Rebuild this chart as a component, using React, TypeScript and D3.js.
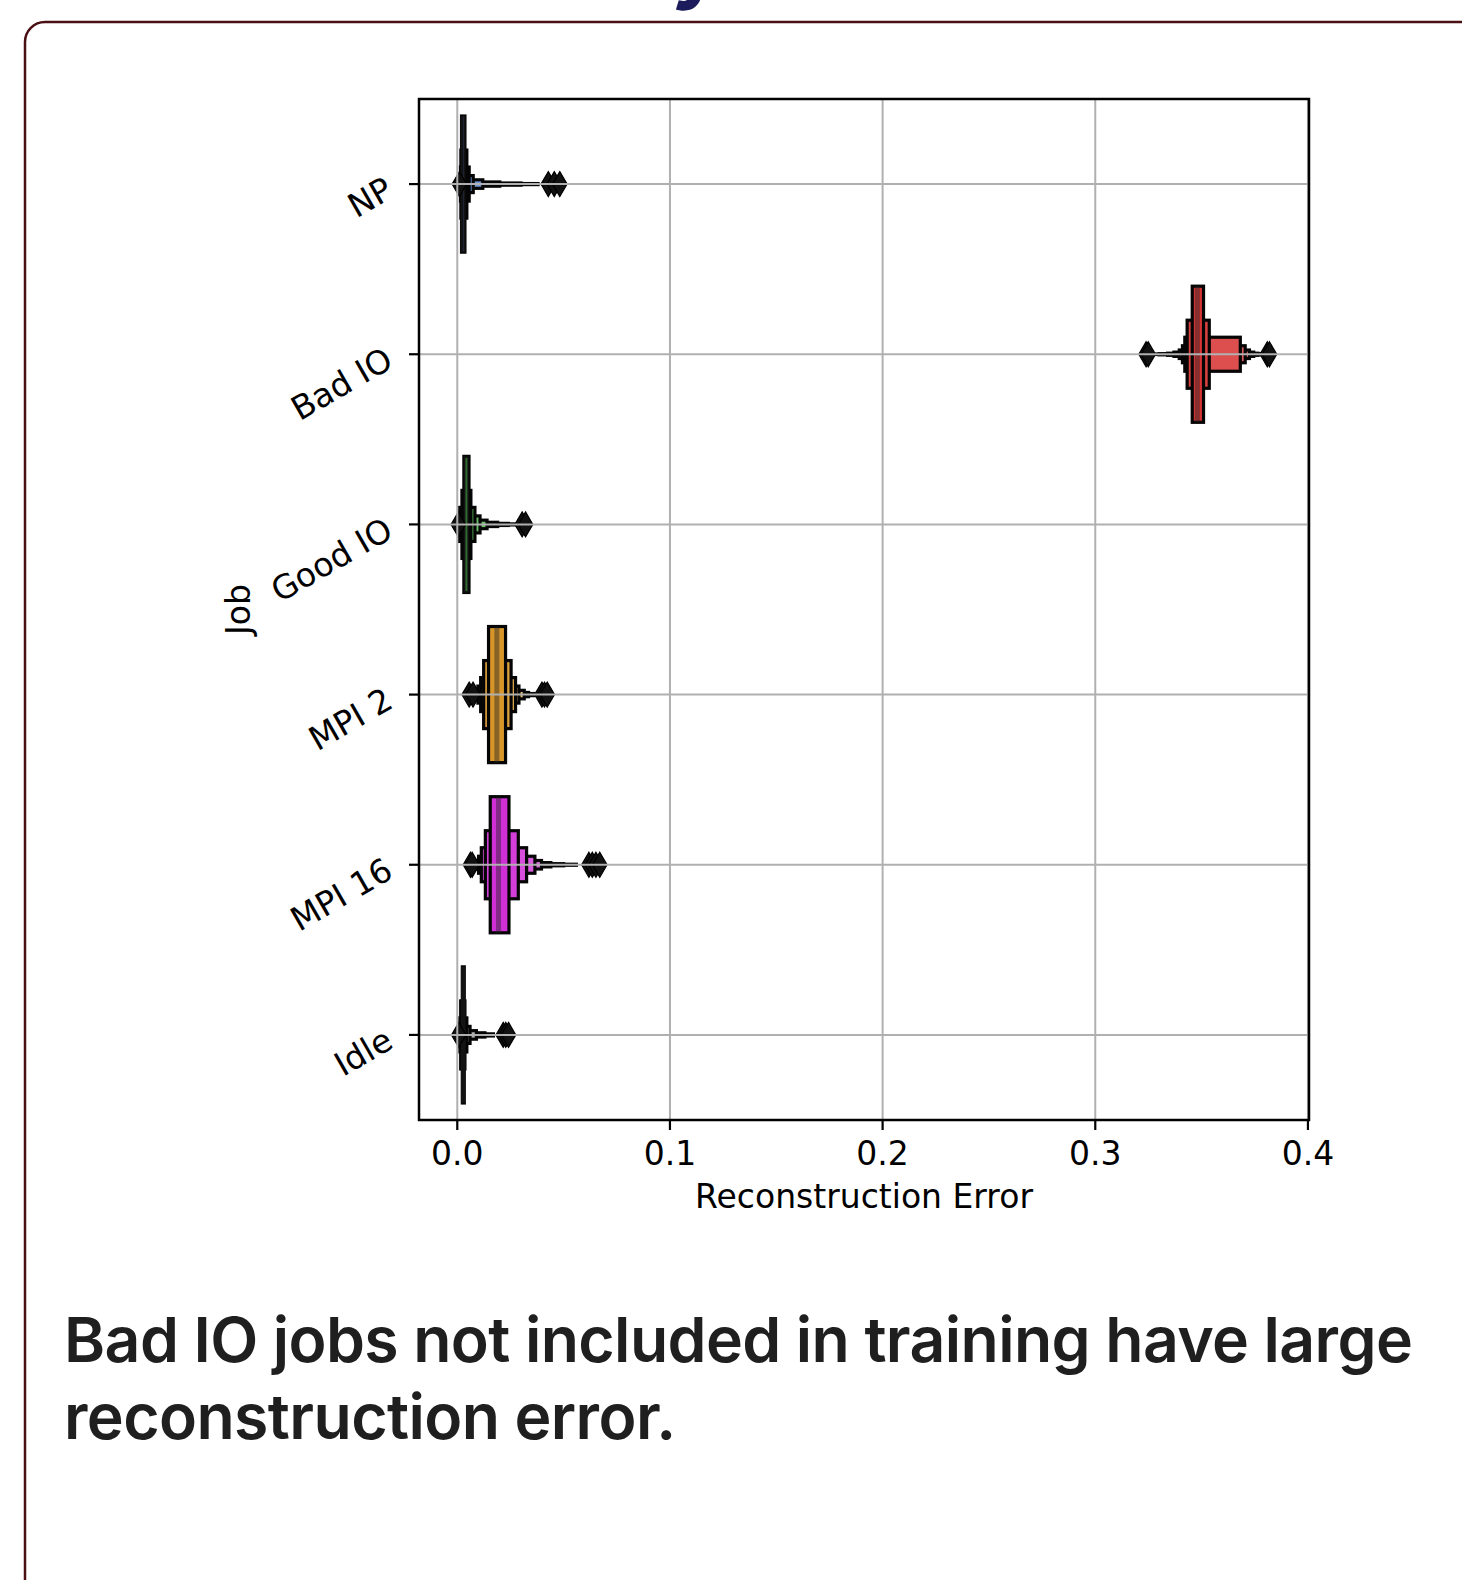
import React from "react";
import * as d3 from "d3";

// ---------- data ----------
const categories = ["NP", "Bad IO", "Good IO", "MPI 2", "MPI 16", "Idle"];
const baseColors = ["#3b6fcc", "#d83535", "#3aa63a", "#d8962a", "#d02fd6", "#8a8a8a"];
const medians = [0.0027, 0.348, 0.0042, 0.0186, 0.0194, 0.0028];

// letter-value boxes, innermost first: [low, high]
const npLevels = [[0.002, 0.0036], [0.0017, 0.0045], [0.0015, 0.0056], [0.0014, 0.0075], [0.0013, 0.012], [0.0013, 0.02], [0.0012, 0.03], [0.0012, 0.038]];
const badIoLevels = [[0.3456, 0.3509], [0.3432, 0.3536], [0.3421, 0.3682], [0.341, 0.3705], [0.3395, 0.3725], [0.337, 0.3745], [0.334, 0.3765], [0.33, 0.378], [0.327, 0.379]];
const goodIoLevels = [[0.0031, 0.0055], [0.0022, 0.0064], [0.0011, 0.0083], [0.0009, 0.0107], [0.0008, 0.014], [0.0007, 0.019], [0.0007, 0.024], [0.0007, 0.028]];
const mpi2Levels = [[0.0147, 0.0227], [0.0124, 0.0253], [0.011, 0.0274], [0.0097, 0.029], [0.0088, 0.0315], [0.0082, 0.0335], [0.008, 0.036]];
const mpi16Levels = [[0.0155, 0.0243], [0.0132, 0.0287], [0.0113, 0.0326], [0.01, 0.0365], [0.009, 0.0396], [0.0084, 0.044], [0.008, 0.05], [0.0078, 0.056]];
const idleLevels = [[0.0024, 0.0033], [0.0016, 0.0036], [0.0012, 0.0045], [0.0011, 0.006], [0.001, 0.009], [0.001, 0.013], [0.0009, 0.017]];

const npOutliers = [0.001, 0.0428, 0.0456, 0.0482];
const badIoOutliers = [0.3239, 0.3249, 0.3809, 0.3819];
const goodIoOutliers = [0.0005, 0.0305, 0.0321];
const mpi2Outliers = [0.0056, 0.0074, 0.0398, 0.041, 0.0423];
const mpi16Outliers = [0.0062, 0.007, 0.0619, 0.0635, 0.0652, 0.067];
const idleOutliers = [0.0007, 0.0216, 0.0228, 0.0241];

const xTicks = [0, 0.1, 0.2, 0.3, 0.4];
const xDomain = [-0.018, 0.4005];

const xLabel = "Reconstruction Error";
const yLabel = "Job";
const captionLines = ["Bad IO jobs not included in training have large", "reconstruction error."];

const levelsByCat = [npLevels, badIoLevels, goodIoLevels, mpi2Levels, mpi16Levels, idleLevels];
const outliersByCat = [npOutliers, badIoOutliers, goodIoOutliers, mpi2Outliers, mpi16Outliers, idleOutliers];

// ---------- component ----------
export default function App() {
  const W = 1462;
  const H = 1580;
  const left = 419, right = 1309, top = 99, bottom = 1120;
  const x = d3.scaleLinear().domain(xDomain).range([left, right]);
  const y = d3.scaleBand<string>().domain(categories).range([top, bottom]);
  const bw = y.bandwidth();
  const maxH = bw * 0.8;
  const font = "DejaVu Sans, Verdana, sans-serif";
  const fs = 33;
  const fmt = d3.format(".1f");

  const diamond = (cx: number, cy: number) => {
    const hw = 7.3, hh = 12.5;
    const p = d3.path();
    p.moveTo(cx, cy - hh);
    p.lineTo(cx + hw, cy);
    p.lineTo(cx, cy + hh);
    p.lineTo(cx - hw, cy);
    p.closePath();
    return p.toString();
  };

  return (
    <svg
      width={W}
      height={H}
      style={{ position: "absolute", left: 0, top: 0, background: "#fff" }}
      xmlns="http://www.w3.org/2000/svg"
    >
      <rect x={0} y={0} width={W} height={H} fill="#fff" />
      {/* fragment of a title above the card (cut off in the reference too) */}
      <text x={671} y={-7} fontFamily="Inter, sans-serif" fontWeight={700} fontSize={84} fill="#1c1c5c">y</text>
      {/* card */}
      <rect x={25} y={22} width={1520} height={1700} rx={20} ry={20} fill="#fff" stroke="#4a1014" strokeWidth={2.5} />

      {/* boxen plots */}
      {categories.map((c, ci) => {
        const cy = (y(c) as number) + bw / 2;
        const levels = levelsByCat[ci];
        const n = levels.length;
        const base = baseColors[ci];
        const boxes = levels
          .map((lv, i) => {
            const h = maxH * Math.pow(0.5, i);
            const t = n > 1 ? (0.85 * i) / (n - 1) : 0;
            const fill = d3.interpolateRgb(base, "#ffffff")(t * 0.6);
            return (
              <rect
                key={i}
                x={x(lv[0])}
                y={cy - h / 2}
                width={x(lv[1]) - x(lv[0])}
                height={h}
                fill={fill}
                stroke="#050505"
                strokeWidth={3.2}
              />
            );
          })
          .reverse();
        const mx = x(medians[ci]);
        return (
          <g key={c}>
            {boxes}
            <line x1={mx} x2={mx} y1={cy - maxH / 2} y2={cy + maxH / 2} stroke="#262626" strokeOpacity={0.45} strokeWidth={5} />
            {outliersByCat[ci].map((v, k) => (
              <path key={k} d={diamond(x(v), cy)} fill="#111" stroke="#000" strokeWidth={1.2} />
            ))}
          </g>
        );
      })}

      {/* grid (drawn above the marks) */}
      {xTicks.map((t) => (
        <line key={"gx" + t} x1={x(t)} x2={x(t)} y1={top} y2={bottom} stroke="#b0b0b0" strokeWidth={2} />
      ))}
      {categories.map((c) => {
        const cy = (y(c) as number) + bw / 2;
        return <line key={"gy" + c} x1={left} x2={right} y1={cy} y2={cy} stroke="#b0b0b0" strokeWidth={2} />;
      })}

      {/* spines */}
      <rect x={left} y={top} width={right - left} height={bottom - top} fill="none" stroke="#000" strokeWidth={2.5} />

      {/* x ticks */}
      {xTicks.map((t) => (
        <g key={"xt" + t}>
          <line x1={x(t)} x2={x(t)} y1={bottom} y2={bottom + 10} stroke="#000" strokeWidth={2.2} />
          <text x={x(t)} y={1165} textAnchor="middle" fontFamily={font} fontSize={fs} fill="#000">
            {fmt(t)}
          </text>
        </g>
      ))}
      <text x={(left + right) / 2} y={1208} textAnchor="middle" fontFamily={font} fontSize={fs} fill="#000">
        {xLabel}
      </text>

      {/* y ticks */}
      {categories.map((c) => {
        const cy = (y(c) as number) + bw / 2;
        return (
          <g key={"yt" + c}>
            <line x1={left - 10} x2={left} y1={cy} y2={cy} stroke="#000" strokeWidth={2.2} />
            <text
              transform={`translate(${395},${cy + 12}) rotate(-30)`}
              textAnchor="end"
              fontFamily={font}
              fontSize={fs}
              fill="#000"
            >
              {c}
            </text>
          </g>
        );
      })}
      <text transform={`translate(250,${(top + bottom) / 2}) rotate(-90)`} textAnchor="middle" fontFamily={font} fontSize={fs} fill="#000">
        {yLabel}
      </text>

      {/* caption */}
      {captionLines.map((s, i) => (
        <text key={i} x={64} y={1362 + i * 77} fontFamily="Inter, sans-serif" fontWeight={600} fontSize={62.5} letterSpacing={-0.6} fill="#1f1f1f">
          {s}
        </text>
      ))}
    </svg>
  );
}
